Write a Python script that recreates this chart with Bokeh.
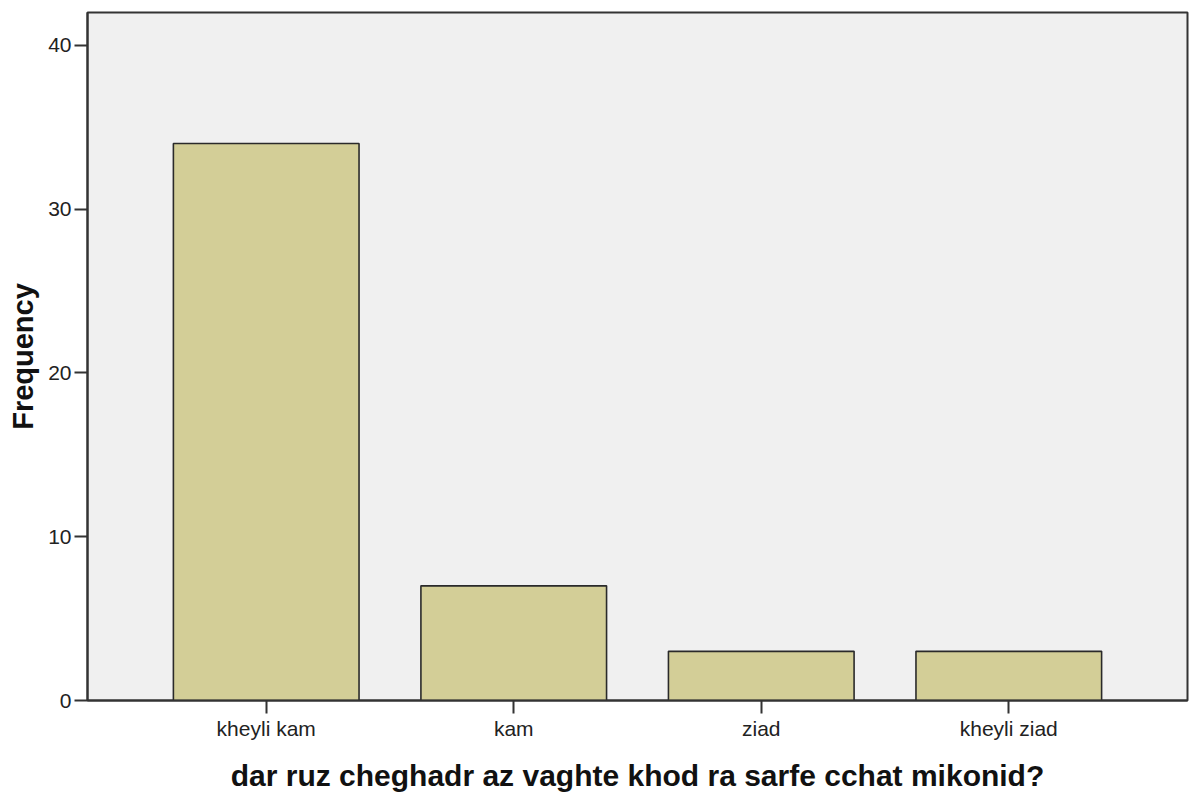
from bokeh.plotting import figure
from bokeh.models import FactorRange, Range1d, FixedTicker
from bokeh.embed import file_html
from bokeh.resources import INLINE

categories = ["kheyli kam", "kam", "ziad", "kheyli ziad"]
frequency = [34, 7, 3, 3]
y_ticks = [0, 10, 20, 30, 40]

p = figure(
    width=1195, height=795,
    x_range=FactorRange(factors=categories, range_padding=0.111),
    y_range=Range1d(0, 42),
    output_backend="svg", toolbar_location=None,
    min_border_left=87, min_border_right=8, min_border_top=12, min_border_bottom=95,
)
p.vbar(x=categories, top=frequency, width=0.75,
       fill_color="#D3CE97", line_color="#2a2a2a", line_width=1.6)

p.background_fill_color = "#F0F0F0"
p.border_fill_color = "white"
p.outline_line_color = "#333333"
p.outline_line_width = 2
p.xgrid.visible = False
p.ygrid.visible = False

p.yaxis.ticker = FixedTicker(ticks=y_ticks)
p.yaxis.minor_tick_line_color = None
p.yaxis.major_tick_out = 13
p.yaxis.major_tick_in = 0
p.yaxis.major_tick_line_width = 2
p.yaxis.major_tick_line_color = "#333333"
p.yaxis.axis_line_color = "#333333"
p.yaxis.axis_line_width = 2
p.yaxis.major_label_standoff = 3
p.yaxis.axis_label = "Frequency"
p.yaxis.axis_label_standoff = 6

p.xaxis.major_tick_out = 13
p.xaxis.major_tick_in = 0
p.xaxis.major_tick_line_width = 2
p.xaxis.major_tick_line_color = "#333333"
p.xaxis.axis_line_color = "#333333"
p.xaxis.axis_line_width = 2
p.xaxis.major_label_standoff = 3
p.xaxis.axis_label = "dar ruz cheghadr az vaghte khod ra sarfe cchat mikonid?"
p.xaxis.axis_label_standoff = 16

for ax in (p.xaxis, p.yaxis):
    ax.major_label_text_font = "Liberation Sans"
    ax.major_label_text_font_size = "21px"
    ax.major_label_text_color = "#222222"
    ax.axis_label_text_font = "Liberation Sans"
    ax.axis_label_text_font_style = "bold"
    ax.axis_label_text_color = "#111111"
p.xaxis.axis_label_text_font_size = "30px"
p.yaxis.axis_label_text_font_size = "29px"

open("out.html", "w").write(file_html(p, INLINE))
